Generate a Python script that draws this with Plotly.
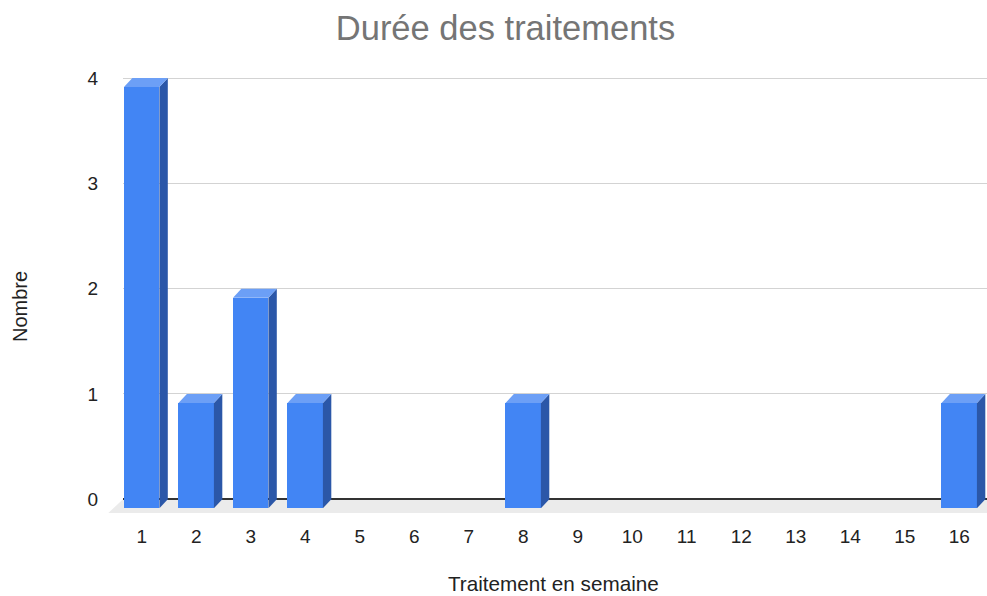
import plotly.graph_objects as go

# ---- data ----
categories = list(range(1, 17))
values = [4, 1, 2, 1, 0, 0, 0, 1, 0, 0, 0, 0, 0, 0, 0, 1]
y_ticks = [0, 1, 2, 3, 4]
chart_title = "Durée des traitements"
x_title = "Traitement en semaine"
y_title = "Nombre"

# ---- style ----
FRONT = "#4285F4"
SIDE = "#2B57A8"
TOP = "#6C9FF6"
FLOOR = "#EBEBEB"
FONT = "Liberation Sans, Arial, sans-serif"
BAR_W = 0.65      # front face width (x units)
DX = 0.154        # 3D depth in x units
DY = 0.0855       # 3D depth in y units
FLOOR_DX = 0.27
X_RANGE = [0.657, 16.51]
Y_RANGE = [-0.13, 4.019]

fig = go.Figure()

# front faces
fig.add_trace(go.Bar(
    x=categories, y=values, base=[-DY] * len(values), width=BAR_W,
    marker=dict(color=FRONT, line=dict(width=0)),
    hoverinfo="skip", showlegend=False,
))

# side and top faces computed from the data
for c, v in zip(categories, values):
    if v <= 0:
        continue
    xl = c - BAR_W / 2
    xr = c + BAR_W / 2
    fig.add_trace(go.Scatter(
        x=[xr, xr + DX, xr + DX, xr, xr],
        y=[-DY, 0, v, v - DY, -DY],
        fill="toself", fillcolor=SIDE, mode="lines",
        line=dict(width=0, color=SIDE), hoverinfo="skip", showlegend=False,
    ))
    fig.add_trace(go.Scatter(
        x=[xl, xr, xr + DX, xl + DX, xl],
        y=[v - DY, v - DY, v, v, v - DY],
        fill="toself", fillcolor=TOP, mode="lines",
        line=dict(width=0, color=TOP), hoverinfo="skip", showlegend=False,
    ))


def px(x):
    return (x - X_RANGE[0]) / (X_RANGE[1] - X_RANGE[0])


def py(y):
    return (y - Y_RANGE[0]) / (Y_RANGE[1] - Y_RANGE[0])


floor_path = "M {a},{b} L {c},{b} L {c},{d} L {e},{d} Z".format(
    a=px(X_RANGE[0]), b=py(0), c=1.0, d=py(Y_RANGE[0]), e=px(X_RANGE[0] - FLOOR_DX)
)

fig.update_layout(
    width=987, height=596,
    margin=dict(l=123, r=0, t=76, b=83),
    paper_bgcolor="white", plot_bgcolor="white",
    font=dict(family=FONT, color="#222222"),
    title=dict(text=chart_title, x=505.5 / 987, xanchor="center",
               y=1 - 28 / 596, yanchor="middle", yref="container",
               font=dict(size=34.5, color="#757575", family=FONT)),
    shapes=[dict(type="path", path=floor_path, xref="paper", yref="paper",
                 fillcolor=FLOOR, line=dict(width=0), layer="below")],
    bargap=0,
    annotations=[
        dict(text=x_title, xref="paper", yref="paper",
             x=(553 - 123) / 864, y=-(583 - 513) / 437,
             xanchor="center", yanchor="middle", showarrow=False,
             font=dict(size=20.7, color="#222222", family=FONT)),
        dict(text=y_title, xref="paper", yref="paper",
             x=-(123 - 20) / 864, y=(513 - 307) / 437,
             xanchor="center", yanchor="middle", showarrow=False, textangle=-90,
             font=dict(size=20, color="#222222", family=FONT)),
    ],
)

fig.update_xaxes(
    range=X_RANGE, tickvals=categories, ticktext=[str(c) for c in categories],
    showgrid=False, zeroline=False, showline=False, ticks="",
    tickfont=dict(size=19, color="#222222", family=FONT),
    ticklabelstandoff=10, fixedrange=True,
)
fig.update_yaxes(
    range=Y_RANGE, tickvals=y_ticks, ticktext=[str(t) for t in y_ticks],
    showgrid=True, gridcolor="#D3D3D3", gridwidth=1,
    zeroline=True, zerolinecolor="#333333", zerolinewidth=1.5,
    showline=False, ticks="",
    tickfont=dict(size=19, color="#222222", family=FONT),
    ticklabelstandoff=24, fixedrange=True,
)

fig.write_html(
    "out.html",
    config={"displayModeBar": False},
    post_script="document.body.style.margin='0';document.body.style.overflow='hidden';",
)
